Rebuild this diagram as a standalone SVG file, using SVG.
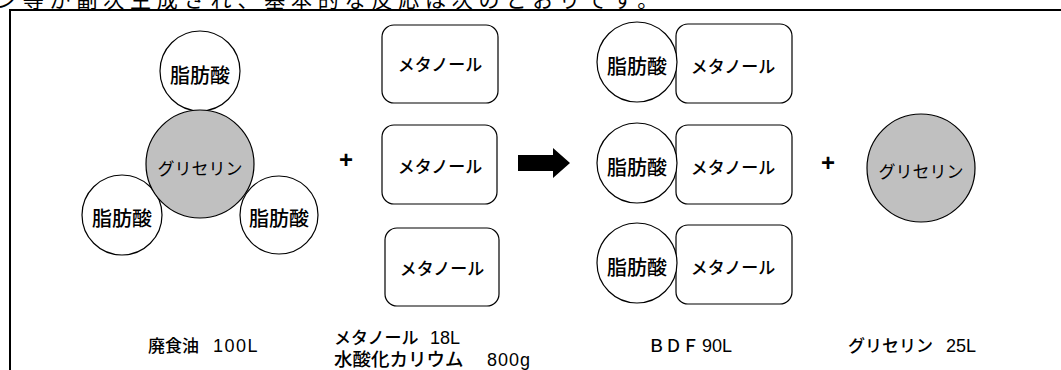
<svg xmlns="http://www.w3.org/2000/svg" width="1061" height="370" viewBox="0 0 1061 370">
  <style>
    text { font-family: "Liberation Sans", "Noto Sans CJK JP", sans-serif; fill: #000; }
    .ja { font-family: "Noto Sans CJK JP", "Liberation Sans", sans-serif; }
    .lbl { text-anchor: middle; dominant-baseline: central; }
    .fa { font-size: 20px; font-weight: 500; }
    .me { font-size: 17px; font-weight: 500; }
    .gl { font-size: 17px; }
    .cap { font-size: 17px; font-weight: 500; }
    .num { font-size: 18px; }
    .white { fill: #fff; stroke: #000; stroke-width: 1.2; }
    .grey { fill: #c0c0c0; stroke: #000; stroke-width: 1.2; }
    .plus { font-family: "Liberation Sans", sans-serif; font-size: 24px; font-weight: bold; text-anchor: middle; dominant-baseline: central; }
  </style>
  <rect width="1061" height="370" fill="#fff"/>

  <!-- running text of the page, clipped by the top edge -->
  <text class="ja" x="-4" y="7" font-size="21" letter-spacing="5.8">ン等が副次生成され、基本的な反応は次のとおりです。</text>

  <!-- frame -->
  <path d="M10,370 V10 H1061" fill="none" stroke="#000" stroke-width="2"/>

  <!-- waste oil molecule: glycerin with three fatty acids -->
  <g id="oil-fatty-acid-top">
    <circle class="white" cx="200" cy="71" r="40"/>
    <text class="ja lbl fa" x="200" y="74">脂肪酸</text>
  </g>
  <g id="oil-fatty-acid-left">
    <circle class="white" cx="122" cy="215" r="40"/>
    <text class="ja lbl fa" x="122" y="217">脂肪酸</text>
  </g>
  <g id="oil-fatty-acid-right">
    <circle class="white" cx="279" cy="215" r="39"/>
    <text class="ja lbl fa" x="279" y="217">脂肪酸</text>
  </g>
  <g id="oil-glycerin">
    <circle class="grey" cx="200" cy="164" r="54"/>
    <text class="ja lbl gl" x="200" y="167">グリセリン</text>
  </g>

  <!-- methanol -->
  <g id="methanol-1">
    <rect class="white" x="382" y="25" width="116" height="78" rx="12"/>
    <text class="ja lbl me" x="440" y="63">メタノール</text>
  </g>
  <g id="methanol-2">
    <rect class="white" x="382" y="125" width="115" height="79" rx="12"/>
    <text class="ja lbl me" x="440" y="165">メタノール</text>
  </g>
  <g id="methanol-3">
    <rect class="white" x="385" y="228" width="114" height="78" rx="12"/>
    <text class="ja lbl me" x="442" y="267">メタノール</text>
  </g>

  <!-- BDF: fatty acid + methanol esters -->
  <g id="bdf-1">
    <rect class="white" x="676" y="24" width="116" height="79" rx="12"/>
    <circle class="white" cx="637" cy="62" r="40"/>
    <text class="ja lbl fa" x="637" y="65">脂肪酸</text>
    <text class="ja lbl me" x="733" y="65">メタノール</text>
  </g>
  <g id="bdf-2">
    <rect class="white" x="676" y="125" width="116" height="79" rx="12"/>
    <circle class="white" cx="637" cy="163" r="40"/>
    <text class="ja lbl fa" x="637" y="166">脂肪酸</text>
    <text class="ja lbl me" x="733" y="166">メタノール</text>
  </g>
  <g id="bdf-3">
    <rect class="white" x="676" y="225" width="116" height="79" rx="12"/>
    <circle class="white" cx="637" cy="263" r="40"/>
    <text class="ja lbl fa" x="637" y="266">脂肪酸</text>
    <text class="ja lbl me" x="733" y="266">メタノール</text>
  </g>

  <!-- by-product glycerin -->
  <g id="glycerin-out">
    <circle class="grey" cx="921" cy="168" r="54"/>
    <text class="ja lbl gl" x="921" y="170">グリセリン</text>
  </g>

  <!-- operators -->
  <g id="connectors">
    <text class="plus" x="346" y="159">+</text>
    <path d="M518,155 H553 V148 L570,163 L553,178 V171 H518 Z" fill="#000"/>
    <text class="plus" x="828" y="162">+</text>
  </g>

  <!-- quantities -->
  <g id="captions">
    <text class="cap" x="148" y="352">廃食油<tspan class="num" x="213" letter-spacing="1.5">100L</tspan></text>
    <text class="cap" x="334" y="344">メタノール<tspan class="num" x="430">18L</tspan></text>
    <text class="cap" x="334" y="366"><tspan font-size="18.5">水酸化カリウム</tspan><tspan class="num" x="487" letter-spacing="1">800g</tspan></text>
    <text class="cap" x="648" y="352">ＢＤＦ<tspan class="num" x="702">90L</tspan></text>
    <text class="cap" x="848" y="352">グリセリン<tspan class="num" x="946">25L</tspan></text>
  </g>
</svg>
